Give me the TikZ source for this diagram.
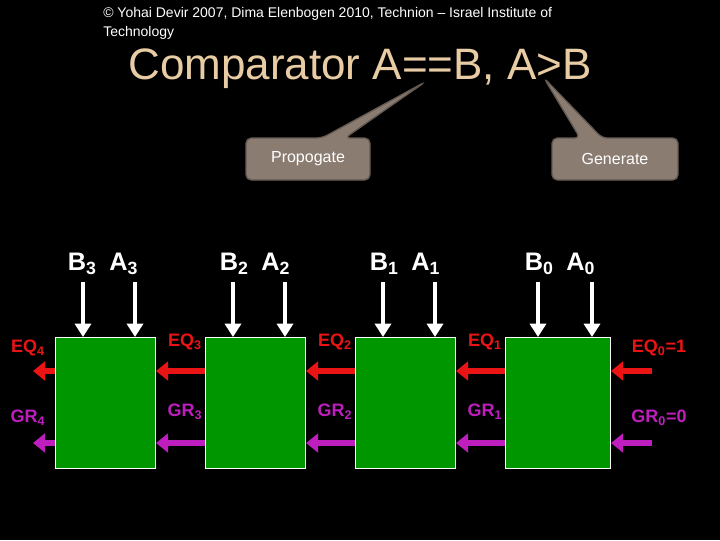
\documentclass[tikz,border=0pt]{standalone}
\usepackage{fontspec}
\setmainfont{Liberation Sans}
\definecolor{tan}{RGB}{231,204,164}
\definecolor{callout}{RGB}{139,124,114}
\definecolor{calloutb}{RGB}{100,90,82}
\definecolor{gbox}{RGB}{0,150,0}
\definecolor{eqred}{RGB}{235,20,20}
\definecolor{grpur}{RGB}{190,30,190}
\begin{document}
\begin{tikzpicture}[x=0.75pt,y=-0.75pt,
  blk/.style={draw=white,fill=gbox,line width=0.8pt},
  inarr/.style={white,line width=2.5pt,-{Triangle[length=10pt,width=12pt]}},
  eqarr/.style={eqred,line width=4pt,-{Triangle[length=9pt,width=14pt]}},
  grarr/.style={grpur,line width=4pt,-{Triangle[length=9pt,width=14pt]}},
  inlab/.style={white,font=\bfseries\fontsize{19}{22}\selectfont},
  eqlab/.style={eqred,font=\bfseries\fontsize{13.5}{16}\selectfont},
  grlab/.style={grpur,font=\bfseries\fontsize{13.5}{16}\selectfont},
  cbox/.style={fill=callout,draw=calloutb,line width=1pt,rounded corners=4pt},
  ctext/.style={white,font=\fontsize{12}{14}\selectfont}]
\usetikzlibrary{arrows.meta}
\fill[black] (0,0) rectangle (720,540);
\useasboundingbox (0,0) rectangle (720,540);
\node[anchor=north west,align=left,white,font=\fontsize{10.5}{14}\selectfont,inner sep=0] (copy) at (103,7) {© Yohai Devir 2007, Dima Elenbogen 2010, Technion – Israel Institute of\\Technology};
\node[tan,font=\fontsize{33}{36}\selectfont] (title) at (360,69) {Comparator A==B, A>B};
% callouts
\draw[cbox] (246,138) -- (322,138) -- (425,82) -- (345,138) -- (370,138) -- (370,180) -- (246,180) -- cycle;
\node[ctext] (prop) at (308,159) {Propogate};
\draw[cbox] (552,138) -- (580,138) -- (544,78) -- (602,138) -- (678,138) -- (678,180) -- (552,180) -- cycle;
\node[ctext] (gen) at (615,159) {Generate};
% blocks
\foreach \i/\x/\w in {3/55/100,2/205/100,1/355/100,0/505/105}{
  \node[blk,minimum width=\w*0.75pt,minimum height=131*0.75pt,anchor=north west,inner sep=0] (b\i) at (\x,337) {};
}
\foreach \i/\bx/\ax/\lx in {3/83/135/103,2/233/285/255,1/383/435/405,0/538/592/560}{
  \coordinate (sb\i) at (\bx,282); \coordinate (sa\i) at (\ax,282);
  \draw[inarr] (sb\i) -- (sb\i |- b\i.north);
  \draw[inarr] (sa\i) -- (sa\i |- b\i.north);
  \node[inlab] (lab\i) at (\lx,264) {B\textsubscript{\i}\enspace A\textsubscript{\i}};
}
% chain arrows
\coordinate (eqout) at (33,371); \coordinate (grout) at (33,443);
\coordinate (eqin) at (652,371); \coordinate (grin) at (652,443);
\draw[eqarr] (b3.west |- eqout) -- (eqout);
\draw[grarr] (b3.west |- grout) -- (grout);
\draw[eqarr] (b2.west |- eqout) -- (b3.east |- eqout);
\draw[grarr] (b2.west |- grout) -- (b3.east |- grout);
\draw[eqarr] (b1.west |- eqout) -- (b2.east |- eqout);
\draw[grarr] (b1.west |- grout) -- (b2.east |- grout);
\draw[eqarr] (b0.west |- eqout) -- (b1.east |- eqout);
\draw[grarr] (b0.west |- grout) -- (b1.east |- grout);
\draw[eqarr] (eqin) -- (b0.east |- eqin);
\draw[grarr] (grin) -- (b0.east |- grin);
% labels
\node[eqlab] (eq4) at (28,348) {EQ\textsubscript{4}};
\node[eqlab] (eq3) at (185,342) {EQ\textsubscript{3}};
\node[eqlab] (eq2) at (335,342) {EQ\textsubscript{2}};
\node[eqlab] (eq1) at (485,342) {EQ\textsubscript{1}};
\node[eqlab] (eq0) at (659,348) {EQ\textsubscript{0}=1};
\node[grlab] (gr4) at (28,418) {GR\textsubscript{4}};
\node[grlab] (gr3) at (185,412) {GR\textsubscript{3}};
\node[grlab] (gr2) at (335,412) {GR\textsubscript{2}};
\node[grlab] (gr1) at (485,412) {GR\textsubscript{1}};
\node[grlab] (gr0) at (659,418) {GR\textsubscript{0}=0};
\end{tikzpicture}
\end{document}
